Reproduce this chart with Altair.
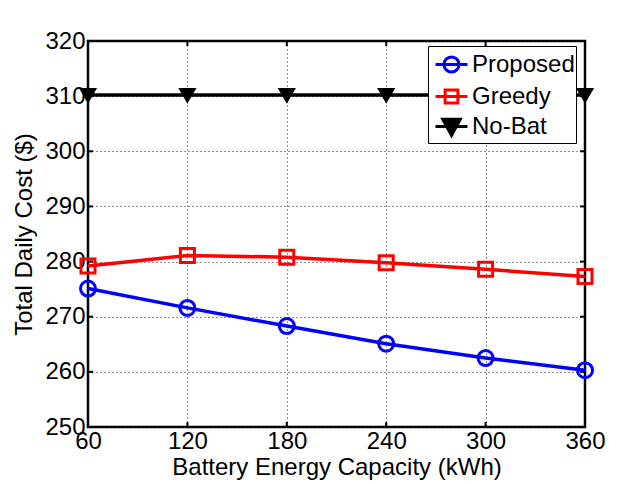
import altair as alt
import pandas as pd

capacity = [60, 120, 180, 240, 300, 360]
proposed = [275.1, 271.6, 268.3, 265.1, 262.5, 260.3]
greedy = [279.2, 281.1, 280.8, 279.8, 278.6, 277.3]
nobat = [310.2, 310.2, 310.2, 310.2, 310.2, 310.2]

series_names = ["Proposed", "Greedy", "No-Bat"]
series_colors = ["#0000ff", "#ff0000", "#000000"]
series_fills = ["transparent", "transparent", "#000000"]
plot_shapes = ["circle", "square", "triangle-down"]
legend_shapes = [
    "M-1,0H1M0.47,0A0.47,0.47,0,1,1,-0.47,0A0.47,0.47,0,1,1,0.47,0Z",
    "M-1,0H1M-0.4,-0.4H0.4V0.4H-0.4Z",
    "M-1,0H1M-0.55,-0.45L0.55,-0.45L0,0.55Z",
]
x_ticks = [60, 120, 180, 240, 300, 360]
y_ticks = [250, 260, 270, 280, 290, 300, 310, 320]

rows = []
for name, vals in zip(series_names, [proposed, greedy, nobat]):
    for c, v in zip(capacity, vals):
        rows.append({"cap": c, "cost": v, "series": name})
df = pd.DataFrame(rows)

W, H = 497, 386
FONT = "Liberation Sans"

xs = alt.Scale(domain=[60, 360], nice=False, zero=False)
ys = alt.Scale(domain=[250, 320], nice=False, zero=False)

xenc = alt.X("cap:Q", scale=xs, axis=alt.Axis(
    values=x_ticks, title="Battery Energy Capacity (kWh)", ticks=False, domain=False,
    grid=True, gridDash=[1, 3], gridColor="#222222", gridWidth=1,
    labelFontSize=24, labelPadding=2, titleFontSize=24, titlePadding=2,
    labelFont=FONT, titleFont=FONT, labelColor="black", titleColor="black",
    titleFontWeight="normal", labelFlush=False))
yenc = alt.Y("cost:Q", scale=ys, axis=alt.Axis(
    values=y_ticks, title="Total Daily Cost ($)", ticks=False, domain=False,
    grid=True, gridDash=[1, 3], gridColor="#222222", gridWidth=1,
    labelFontSize=24, labelPadding=3, titleFontSize=24, titlePadding=8,
    labelFont=FONT, titleFont=FONT, labelColor="black", titleColor="black",
    titleFontWeight="normal", labelFlush=False))

base = alt.Chart(df)

lines = base.mark_line(strokeWidth=3.5).encode(
    x=xenc, y=yenc,
    stroke=alt.Stroke("series:N", scale=alt.Scale(domain=series_names, range=series_colors), legend=None),
    detail="series:N",
)

points = base.mark_point(strokeWidth=3, opacity=1, fillOpacity=1).encode(
    x=alt.X("cap:Q", scale=xs),
    y=alt.Y("cost:Q", scale=ys),
    stroke=alt.Stroke("series:N", scale=alt.Scale(domain=series_names, range=series_colors), legend=None),
    fill=alt.Fill("series:N", scale=alt.Scale(domain=series_names, range=series_fills), legend=None),
    shape=alt.Shape("series:N", scale=alt.Scale(domain=series_names, range=plot_shapes), legend=None),
    size=alt.Size("series:N", scale=alt.Scale(domain=series_names, range=[225, 169, 340]), legend=None),
)

leg = alt.Legend(title=None, orient="none", legendX=340, legendY=5)
legend_layer = base.mark_point(strokeWidth=3, opacity=1, fillOpacity=1).transform_filter("false").encode(
    stroke=alt.Stroke("series:N", scale=alt.Scale(domain=series_names, range=series_colors), legend=leg),
    fill=alt.Fill("series:N", scale=alt.Scale(domain=series_names, range=series_fills), legend=leg),
    shape=alt.Shape("series:N", scale=alt.Scale(domain=series_names, range=legend_shapes), legend=leg),
)

tick_df = pd.DataFrame({"cap": x_ticks})
ytick_df = pd.DataFrame({"cost": y_ticks})
xt_bottom = alt.Chart(tick_df).mark_rule(strokeWidth=2, color="black").encode(
    x=alt.X("cap:Q", scale=xs), y=alt.value(H), y2=alt.value(H - 5))
xt_top = alt.Chart(tick_df).mark_rule(strokeWidth=2, color="black").encode(
    x=alt.X("cap:Q", scale=xs), y=alt.value(0), y2=alt.value(5))
yt_left = alt.Chart(ytick_df).mark_rule(strokeWidth=2, color="black").encode(
    y=alt.Y("cost:Q", scale=ys), x=alt.value(0), x2=alt.value(5))
yt_right = alt.Chart(ytick_df).mark_rule(strokeWidth=2, color="black").encode(
    y=alt.Y("cost:Q", scale=ys), x=alt.value(W), x2=alt.value(W - 5))

chart = alt.layer(
    xt_bottom, xt_top, yt_left, yt_right, lines, points, legend_layer
).resolve_scale(
    stroke="independent", fill="independent", shape="independent", size="independent"
).properties(
    width=W, height=H,
    autosize=alt.AutoSizeParams(type="none"),
    padding={"left": 80, "top": 33, "right": 42, "bottom": 56},
    background="white",
).configure_view(
    stroke="black", strokeWidth=2.5,
).configure_legend(
    strokeColor="black", strokeWidth=1, fillColor="white", padding=1,
    symbolSize=1024, symbolStrokeWidth=3, symbolOffset=5,
    labelFontSize=24, labelFont=FONT, labelColor="black", labelOffset=3,
    rowPadding=0, labelLimit=300,
)

chart.save("out.html", embed_options={"renderer": "svg", "actions": False})
